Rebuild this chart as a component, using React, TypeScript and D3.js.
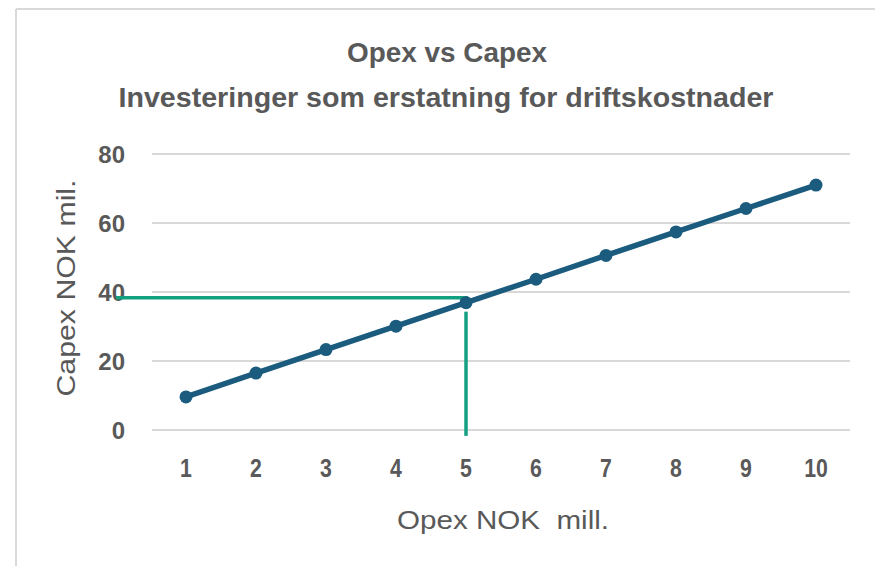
import React from "react";
import * as d3 from "d3";

const opex = ["1", "2", "3", "4", "5", "6", "7", "8", "9", "10"];
const capex = [9.6, 16.5, 23.3, 30.1, 36.9, 43.7, 50.6, 57.4, 64.2, 71.0];
const yTicks = [0, 20, 40, 60, 80];
const guideCategory = "5";
const guideLevel = 38.3;
const guideBottom = -1.7;
const guideTop = 34.3;

const W = 875;
const H = 566;
const sans = "'Liberation Sans', Arial, sans-serif";
const textColor = "#595959";

export default function App() {
  const x = d3.scaleBand<string>().domain(opex).range([151, 851]).padding(0);
  const y = d3.scaleLinear().domain([0, 80]).range([430, 154]);
  const cx = (c: string) => (x(c) as number) + x.bandwidth() / 2;

  const line = d3
    .line<number>()
    .x((_, i) => cx(opex[i]))
    .y((d) => y(d));

  const gx = cx(guideCategory);

  return (
    <svg
      width={W}
      height={H}
      style={{ position: "absolute", left: 0, top: 0, display: "block", background: "#fff" }}
    >
      <rect x={0} y={0} width={W} height={H} fill="#fff" />
      {/* frame */}
      <line x1={16} y1={9} x2={W} y2={9} stroke="#d9d9d9" strokeWidth={2} />
      <line x1={16} y1={9} x2={16} y2={H} stroke="#d9d9d9" strokeWidth={2} />

      {/* title */}
      <text
        x={447}
        y={62}
        textAnchor="middle"
        fontFamily={sans}
        fontWeight="bold"
        fontSize={28}
        fill={textColor}
        textLength={200}
        lengthAdjust="spacingAndGlyphs"
      >
        Opex vs Capex
      </text>
      <text
        x={446}
        y={107}
        textAnchor="middle"
        fontFamily={sans}
        fontWeight="bold"
        fontSize={28}
        fill={textColor}
        textLength={655}
        lengthAdjust="spacingAndGlyphs"
      >
        Investeringer som erstatning for driftskostnader
      </text>

      {/* gridlines */}
      {yTicks.map((t) => (
        <line key={"g" + t} x1={152} x2={850} y1={y(t)} y2={y(t)} stroke="#d9d9d9" strokeWidth={2} />
      ))}

      {/* y tick labels */}
      {yTicks.map((t) => (
        <text
          key={"yt" + t}
          x={125}
          y={y(t)}
          dy="0.36em"
          textAnchor="end"
          fontFamily={sans}
          fontWeight="bold"
          fontSize={24}
          fill={textColor}
        >
          {t}
        </text>
      ))}

      {/* y axis title */}
      <text
        transform={`translate(75,${288}) rotate(-90)`}
        textAnchor="middle"
        fontFamily={sans}
        fontSize={26}
        fill={textColor}
        textLength={217}
        lengthAdjust="spacingAndGlyphs"
      >
        Capex NOK mil.
      </text>

      {/* x tick labels */}
      {opex.map((c) => (
        <text
          key={"xt" + c}
          transform={`translate(${cx(c)},477) scale(0.85,1)`}
          textAnchor="middle"
          fontFamily={sans}
          fontWeight="bold"
          fontSize={25}
          fill={textColor}
        >
          {c}
        </text>
      ))}

      {/* x axis title */}
      <text
        x={503}
        y={529}
        textAnchor="middle"
        fontFamily={sans}
        fontSize={26}
        fill={textColor}
        textLength={212}
        lengthAdjust="spacingAndGlyphs"
        style={{ whiteSpace: "pre" }}
      >
        {"Opex NOK  mill."}
      </text>

      {/* guide lines */}
      <line x1={116} x2={gx + 2} y1={y(guideLevel)} y2={y(guideLevel)} stroke="#13a080" strokeWidth={3.5} />
      <line x1={gx} x2={gx} y1={y(guideTop)} y2={y(guideBottom)} stroke="#13a080" strokeWidth={3.5} />

      {/* series */}
      <path d={line(capex) || ""} fill="none" stroke="#1b5c7e" strokeWidth={5.5} strokeLinejoin="round" />
      {capex.map((v, i) => (
        <circle key={"p" + i} cx={cx(opex[i])} cy={y(v)} r={6.5} fill="#1b5c7e" />
      ))}
    </svg>
  );
}
